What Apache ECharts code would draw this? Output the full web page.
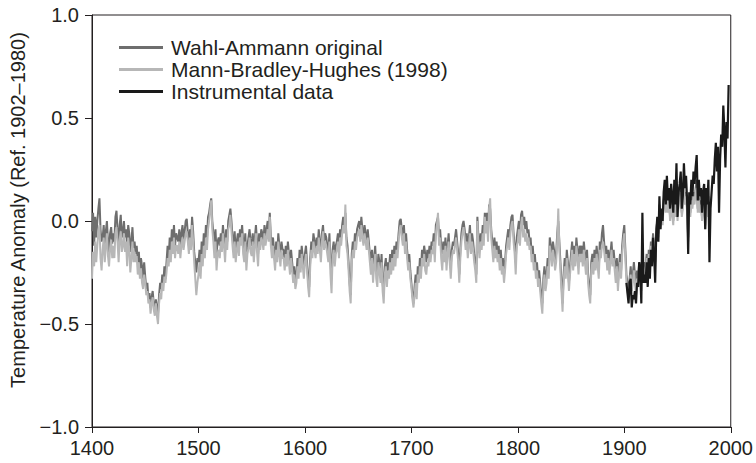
<!DOCTYPE html>
<html>
<head>
<meta charset="utf-8">
<script src="https://cdn.jsdelivr.net/npm/echarts@6/dist/echarts.min.js"></script>
<style>
  html, body {margin: 0; padding: 0; background: #fff;}
  #chart {width: 756px; height: 463px;}
</style>
</head>
<body>
<div id="chart"></div>
<script>
// series names
const names = ['Wahl-Ammann original', 'Mann-Bradley-Hughes (1998)', 'Instrumental data'];

// Wahl-Ammann reconstruction, yearly from 1400
const waStart = 1400;
const waValues = [
  -0.05, 0.04, -0.12, 0.02, -0.08, 0.0, 0.06, 0.11, -0.04, -0.1,
  -0.08, -0.02, -0.12, -0.05, 0.0, -0.1, -0.15, -0.06, -0.03, -0.11,
  -0.06, -0.1, 0.02, 0.05, -0.04, -0.12, -0.02, 0.03, -0.08, -0.05,
  0.0, -0.08, -0.04, -0.12, -0.02, -0.06, -0.15, -0.1, -0.03, -0.13,
  -0.1, -0.16, -0.12, -0.2, -0.15, -0.24, -0.18, -0.22, -0.28, -0.2,
  -0.27, -0.33, -0.3, -0.38, -0.35, -0.42, -0.37, -0.34, -0.4, -0.44,
  -0.38, -0.42, -0.45, -0.36, -0.3, -0.33, -0.26, -0.3, -0.22, -0.28,
  -0.2, -0.12, -0.18, -0.08, -0.14, -0.04, -0.1, -0.02, -0.12, -0.06,
  -0.08, -0.1, -0.04, -0.12, -0.06, -0.02, -0.09, -0.05, 0.0, 0.01,
  -0.06, -0.12, -0.04, -0.1, 0.02, -0.05, -0.15, -0.2, -0.25, -0.18,
  -0.2, -0.14, -0.22, -0.1, -0.16, -0.06, -0.12, -0.02, -0.08, 0.02,
  0.04, 0.08, 0.11, 0.0, -0.06, -0.12, -0.04, -0.16, -0.1, -0.08,
  -0.12, -0.06, -0.1, -0.02, -0.08, -0.14, -0.04, -0.1, 0.0, 0.03,
  0.06, 0.0, -0.08, -0.12, -0.05, -0.15, -0.1, -0.06, -0.12, -0.04,
  -0.08, -0.02, -0.1, -0.14, -0.06, -0.18, -0.12, -0.08, -0.04, -0.1,
  -0.12, -0.06, -0.14, -0.08, -0.02, -0.1, -0.16, -0.06, -0.1, -0.04,
  -0.06, -0.1, -0.02, -0.08, -0.04, 0.0, -0.06, 0.04, -0.08, -0.12,
  -0.08, -0.14, -0.2, -0.1, -0.16, -0.06, -0.12, -0.18, -0.1, -0.14,
  -0.14, -0.2, -0.12, -0.18, -0.1, -0.16, -0.22, -0.14, -0.2, -0.26,
  -0.22, -0.3, -0.26, -0.18, -0.24, -0.14, -0.2, -0.12, -0.18, -0.22,
  -0.16, -0.12, -0.2, -0.28, -0.32, -0.18, -0.1, -0.14, -0.06, -0.1,
  -0.14, -0.08, -0.12, -0.04, -0.1, -0.16, -0.06, -0.02, -0.1, -0.06,
  -0.08, -0.12, -0.16, -0.06, -0.2, -0.28, -0.14, -0.1, -0.18, -0.12,
  -0.1, -0.06, -0.14, -0.04, -0.08, -0.02, 0.02, -0.04, 0.04, -0.08,
  -0.12, -0.2, -0.3, -0.36, -0.16, -0.1, -0.14, -0.06, -0.1, -0.04,
  -0.02, 0.0, -0.06, 0.02, -0.04, -0.08, -0.02, -0.06, -0.1, -0.04,
  -0.1, -0.16, -0.2, -0.14, -0.24, -0.18, -0.12, -0.22, -0.26, -0.16,
  -0.2, -0.26, -0.16, -0.3, -0.36, -0.22, -0.18, -0.28, -0.2, -0.24,
  -0.16, -0.22, -0.14, -0.2, -0.12, -0.18, -0.1, -0.14, -0.06, 0.0,
  0.01, -0.04, -0.08, -0.02, -0.12, -0.06, -0.14, -0.2, -0.16, -0.24,
  -0.3, -0.36, -0.4, -0.32, -0.26, -0.34, -0.22, -0.28, -0.18, -0.24,
  -0.14, -0.18, -0.12, -0.16, -0.2, -0.14, -0.18, -0.12, -0.16, -0.1,
  -0.12, -0.06, -0.14, -0.02, 0.0, 0.02, -0.08, -0.04, -0.12, -0.16,
  -0.1, -0.16, -0.08, -0.2, -0.12, -0.06, -0.16, -0.22, -0.14, -0.1,
  -0.12, -0.08, -0.04, -0.1, -0.16, -0.26, -0.14, -0.06, -0.02, 0.0,
  -0.04, -0.1, -0.06, -0.14, -0.08, -0.02, -0.12, -0.06, -0.1, -0.16,
  -0.2, -0.26, 0.02, -0.08, -0.14, -0.06, -0.1, -0.02, -0.08, 0.04,
  -0.02, 0.04, -0.06, 0.08, 0.06, -0.04, -0.1, -0.16, -0.08, -0.14,
  -0.1, -0.16, -0.12, -0.2, -0.14, -0.22, -0.18, -0.26, -0.2, -0.12,
  -0.08, -0.04, -0.1, -0.02, 0.02, 0.03, -0.06, -0.12, -0.2, -0.08,
  -0.04, 0.0, -0.06, 0.03, 0.05, -0.02, 0.02, -0.04, 0.0, -0.06,
  -0.04, -0.1, -0.08, -0.16, -0.12, -0.2, -0.16, -0.24, -0.2, -0.28,
  -0.24, -0.3, -0.36, -0.4, -0.28, -0.22, -0.3, -0.26, -0.18, -0.24,
  -0.08, -0.12, -0.18, -0.1, -0.14, -0.2, -0.16, -0.06, 0.0, -0.1,
  -0.2, -0.3, -0.4, -0.26, -0.18, -0.24, -0.14, -0.2, -0.3, -0.22,
  -0.16, -0.1, -0.2, -0.12, -0.18, -0.08, -0.14, -0.22, -0.12, -0.16,
  -0.12, -0.18, -0.1, -0.16, -0.22, -0.14, -0.26, -0.32, -0.36, -0.2,
  -0.16, -0.22, -0.14, -0.2, -0.12, -0.18, -0.24, -0.1, -0.14, -0.06,
  -0.02, -0.1, -0.16, -0.12, -0.2, -0.14, -0.22, -0.16, -0.1, -0.18,
  -0.14, -0.2, -0.26, -0.18, -0.3, -0.22, -0.16, -0.24, -0.12, -0.06,
  -0.02, -0.14, -0.26, -0.3, -0.34, -0.28, -0.22, -0.3, -0.26, -0.2,
  -0.26, -0.32, -0.24, -0.28, -0.2, -0.22, -0.3, -0.14, -0.24, -0.2,
  -0.22, -0.16, -0.24, -0.14, -0.2, -0.1, -0.16, -0.06, -0.12, -0.2,
  -0.04, 0.0, -0.06, 0.08, -0.02, 0.04, 0.0, 0.1, 0.14, 0.06,
  0.16, 0.08, 0.12, 0.02, 0.1, 0.06, 0.0, 0.12, 0.04, 0.18,
  0.02, 0.1, 0.12, 0.16, 0.04, 0.08, 0.18, 0.1, 0.14, 0.06,
  -0.08, 0.08, 0.04, 0.12, 0.08, 0.14, 0.1, 0.16, 0.2, 0.06,
  0.12, 0.06, 0.1, 0.02, 0.08, 0.1, -0.02, 0.1, 0.04, 0.12, -0.06
];

// Mann-Bradley-Hughes (1998), yearly from 1400
const mbhStart = 1400;
const mbhValues = [
  -0.28, -0.15, -0.22, -0.1, -0.2, -0.12, -0.05, -0.02, -0.18, -0.24,
  -0.14, -0.08, -0.2, -0.12, -0.06, -0.17, -0.22, -0.13, -0.09, -0.18,
  -0.12, -0.18, -0.06, -0.03, -0.1, -0.2, -0.09, -0.05, -0.15, -0.12,
  -0.06, -0.15, -0.1, -0.22, -0.08, -0.14, -0.25, -0.18, -0.1, -0.2,
  -0.15, -0.2, -0.17, -0.26, -0.2, -0.28, -0.23, -0.3, -0.33, -0.26,
  -0.3, -0.36, -0.34, -0.4, -0.38, -0.45, -0.4, -0.37, -0.43, -0.46,
  -0.4, -0.46, -0.5, -0.4, -0.35, -0.38, -0.3, -0.34, -0.27, -0.3,
  -0.25, -0.18, -0.22, -0.14, -0.2, -0.1, -0.16, -0.08, -0.18, -0.12,
  -0.12, -0.16, -0.1, -0.18, -0.12, -0.08, -0.14, -0.1, -0.06, -0.05,
  -0.1, -0.16, -0.08, -0.14, -0.02, -0.1, -0.2, -0.28, -0.36, -0.3,
  -0.26, -0.2, -0.28, -0.16, -0.22, -0.12, -0.18, -0.08, -0.14, -0.04,
  0.0, 0.05, 0.1, -0.04, -0.1, -0.18, -0.1, -0.24, -0.16, -0.14,
  -0.18, -0.1, -0.15, -0.06, -0.12, -0.2, -0.08, -0.14, -0.04, -0.02,
  0.03, -0.05, -0.12, -0.18, -0.1, -0.2, -0.14, -0.1, -0.17, -0.08,
  -0.12, -0.06, -0.16, -0.2, -0.1, -0.24, -0.16, -0.13, -0.08, -0.15,
  -0.17, -0.1, -0.2, -0.12, -0.06, -0.15, -0.22, -0.1, -0.14, -0.08,
  -0.1, -0.14, -0.06, -0.12, -0.08, -0.04, -0.1, 0.02, -0.12, -0.18,
  -0.12, -0.18, -0.24, -0.14, -0.2, -0.1, -0.16, -0.22, -0.14, -0.18,
  -0.18, -0.24, -0.16, -0.22, -0.14, -0.2, -0.26, -0.18, -0.24, -0.3,
  -0.26, -0.33, -0.3, -0.22, -0.28, -0.18, -0.25, -0.16, -0.22, -0.28,
  -0.2, -0.16, -0.24, -0.32, -0.37, -0.22, -0.14, -0.18, -0.1, -0.14,
  -0.18, -0.12, -0.16, -0.08, -0.14, -0.2, -0.1, -0.05, -0.14, -0.1,
  -0.12, -0.16, -0.2, -0.1, -0.26, -0.35, -0.18, -0.14, -0.22, -0.16,
  -0.14, -0.1, -0.18, -0.08, -0.12, -0.06, -0.02, -0.06, 0.08, -0.12,
  -0.16, -0.24, -0.34, -0.4, -0.2, -0.14, -0.18, -0.1, -0.14, -0.08,
  -0.06, -0.04, -0.1, -0.02, -0.08, -0.12, -0.06, -0.1, -0.14, -0.08,
  -0.14, -0.2, -0.26, -0.18, -0.3, -0.22, -0.16, -0.28, -0.32, -0.2,
  -0.24, -0.3, -0.2, -0.34, -0.4, -0.26, -0.22, -0.32, -0.24, -0.28,
  -0.2, -0.26, -0.18, -0.24, -0.16, -0.22, -0.14, -0.18, -0.1, -0.04,
  -0.02, -0.08, -0.12, -0.06, -0.16, -0.1, -0.18, -0.24, -0.2, -0.28,
  -0.32, -0.38, -0.42, -0.36, -0.3, -0.38, -0.26, -0.3, -0.22, -0.28,
  -0.18, -0.22, -0.16, -0.24, -0.26, -0.2, -0.22, -0.16, -0.2, -0.14,
  -0.16, -0.1, -0.2, -0.06, -0.02, 0.04, -0.12, -0.08, -0.18, -0.24,
  -0.14, -0.2, -0.12, -0.24, -0.16, -0.1, -0.2, -0.28, -0.18, -0.14,
  -0.16, -0.12, -0.08, -0.14, -0.2, -0.3, -0.18, -0.1, -0.06, -0.03,
  -0.08, -0.14, -0.1, -0.18, -0.12, -0.06, -0.16, -0.1, -0.14, -0.2,
  -0.24, -0.3, 0.0, -0.12, -0.18, -0.1, -0.14, -0.06, -0.12, 0.02,
  -0.06, 0.0, -0.1, 0.06, 0.11, -0.08, -0.14, -0.2, -0.12, -0.18,
  -0.14, -0.2, -0.16, -0.24, -0.18, -0.26, -0.22, -0.3, -0.24, -0.16,
  -0.12, -0.08, -0.14, -0.06, -0.02, 0.0, -0.1, -0.16, -0.26, -0.12,
  -0.1, -0.04, -0.12, -0.02, 0.02, -0.08, -0.04, -0.1, -0.06, -0.12,
  -0.08, -0.14, -0.12, -0.2, -0.16, -0.24, -0.2, -0.28, -0.24, -0.32,
  -0.28, -0.34, -0.4, -0.45, -0.32, -0.26, -0.34, -0.3, -0.22, -0.28,
  -0.12, -0.16, -0.22, -0.14, -0.18, -0.24, -0.2, -0.1, 0.06, -0.14,
  -0.24, -0.34, -0.44, -0.3, -0.22, -0.28, -0.18, -0.24, -0.34, -0.26,
  -0.2, -0.14, -0.24, -0.16, -0.22, -0.12, -0.18, -0.26, -0.16, -0.2,
  -0.16, -0.22, -0.14, -0.2, -0.26, -0.18, -0.3, -0.36, -0.4, -0.24,
  -0.2, -0.26, -0.18, -0.24, -0.16, -0.22, -0.28, -0.14, -0.18, -0.12,
  -0.1, -0.14, -0.2, -0.16, -0.24, -0.18, -0.26, -0.2, -0.14, -0.22,
  -0.18, -0.24, -0.3, -0.22, -0.34, -0.26, -0.2, -0.28, -0.16, -0.1,
  -0.06, -0.18, -0.3, -0.34, -0.38, -0.32, -0.26, -0.34, -0.3, -0.24,
  -0.3, -0.36, -0.28, -0.32, -0.24, -0.26, -0.34, -0.18, -0.28, -0.24,
  -0.24, -0.18, -0.26, -0.16, -0.22, -0.12, -0.18, -0.08, -0.14, -0.22,
  -0.06, -0.02, -0.08, 0.06, -0.04, 0.02, -0.02, 0.08, 0.12, 0.04,
  0.14, 0.04, 0.1, 0.0, 0.08, 0.03, -0.02, 0.1, 0.02, 0.16,
  0.0, 0.08, 0.1, 0.14, 0.02, 0.06, 0.16, 0.08, 0.12, 0.04,
  -0.1, 0.06, 0.02, 0.1, 0.06, 0.12, 0.08, 0.14, 0.16, 0.04,
  0.1, 0.04, 0.08, 0.0, 0.06, 0.08, -0.04, 0.08, 0.02, 0.1, -0.08
];

// instrumental record, yearly from 1902
const instStart = 1902;
const instValues = [
  -0.3, -0.35, -0.4, -0.3, -0.28, -0.42, -0.36, -0.38,
  -0.34, -0.4, -0.3, -0.32, -0.2, -0.24, -0.4, 0.04, -0.3, -0.26,
  -0.3, -0.2, -0.32, -0.18, -0.28, -0.14, -0.22, -0.08, -0.16, -0.3,
  -0.06, 0.02, -0.1, 0.12, -0.04, 0.06, 0.0, 0.14, 0.2, 0.08,
  0.22, 0.1, 0.16, 0.06, 0.18, 0.12, 0.04, 0.2, 0.08, 0.28,
  0.02, 0.14, 0.18, 0.24, 0.06, 0.12, 0.28, 0.16, 0.22, 0.1,
  -0.16, 0.14, 0.08, 0.2, 0.12, 0.24, 0.18, 0.26, 0.32, 0.1,
  0.2, 0.12, 0.16, 0.04, 0.14, 0.18, -0.04, 0.16, 0.08, 0.2,
  -0.2, 0.06, 0.14, 0.22, 0.18, 0.3, 0.38, 0.24, 0.36, 0.04,
  0.3, 0.42, 0.36, 0.56, 0.44, 0.26, 0.48, 0.4, 0.66
];

const xTicks = [1400, 1500, 1600, 1700, 1800, 1900, 2000];
const yTicks = [-1.0, -0.5, 0.0, 0.5, 1.0];

function toPairs(start, values) {
    return values.map(function (v, i) { return [start + i, v]; });
}

let dom = document.getElementById('chart');
let myChart = echarts.init(dom, null, {renderer: 'svg'});

const txt = '#231f20';
const font = 'Liberation Sans, Arial, sans-serif';

const option = {
    animation: false,
    backgroundColor: '#fff',
    grid: {
        left: 88, right: 24, top: 15, bottom: 36,
        show: true, borderColor: txt, borderWidth: 1
    },
    legend: {
        data: names,
        orient: 'vertical',
        left: 119,
        top: 37,
        padding: 0,
        icon: 'rect',
        itemWidth: 44,
        itemHeight: 3,
        itemGap: 1,
        textStyle: {fontFamily: font, fontSize: 21, color: txt, padding: [0, 0, 0, 3]}
    },
    xAxis: {
        type: 'value',
        min: xTicks[0],
        max: xTicks[xTicks.length - 1],
        interval: 100,
        axisLine: {onZero: false, lineStyle: {color: txt, width: 1}},
        axisTick: {show: true, inside: false, length: 6, lineStyle: {color: txt}},
        axisLabel: {
            fontFamily: font, fontSize: 20, color: txt, margin: 11,
            formatter: function (v) { return String(v); }
        },
        splitLine: {show: false}
    },
    yAxis: {
        type: 'value',
        min: yTicks[0],
        max: yTicks[yTicks.length - 1],
        interval: 0.5,
        name: 'Temperature Anomaly (Ref. 1902\u20131980)',
        nameLocation: 'middle',
        nameGap: 64,
        nameTextStyle: {fontFamily: font, fontSize: 20, color: txt, padding: [0, 0, 0, 22]},
        axisLine: {onZero: false, lineStyle: {color: txt, width: 1}},
        axisTick: {show: true, inside: false, length: 7, lineStyle: {color: txt}},
        axisLabel: {
            fontFamily: font, fontSize: 20, color: txt, margin: 13,
            formatter: function (v) {
                return v < 0 ? '\u2212' + Math.abs(v).toFixed(1) : v.toFixed(1);
            }
        },
        splitLine: {show: false}
    },
    series: [
        {
            name: names[0], type: 'line', showSymbol: false,
            data: toPairs(waStart, waValues),
            lineStyle: {color: '#6e6e6e', width: 2},
            itemStyle: {color: '#6e6e6e'}
        },
        {
            name: names[1], type: 'line', showSymbol: false,
            data: toPairs(mbhStart, mbhValues),
            lineStyle: {color: '#b7b7b7', width: 2},
            itemStyle: {color: '#b7b7b7'}
        },
        {
            name: names[2], type: 'line', showSymbol: false,
            data: toPairs(instStart, instValues),
            lineStyle: {color: '#1a1a1a', width: 2.2},
            itemStyle: {color: '#1a1a1a'}
        }
    ]
};
myChart.setOption(option, true);
</script>
</body>
</html>
